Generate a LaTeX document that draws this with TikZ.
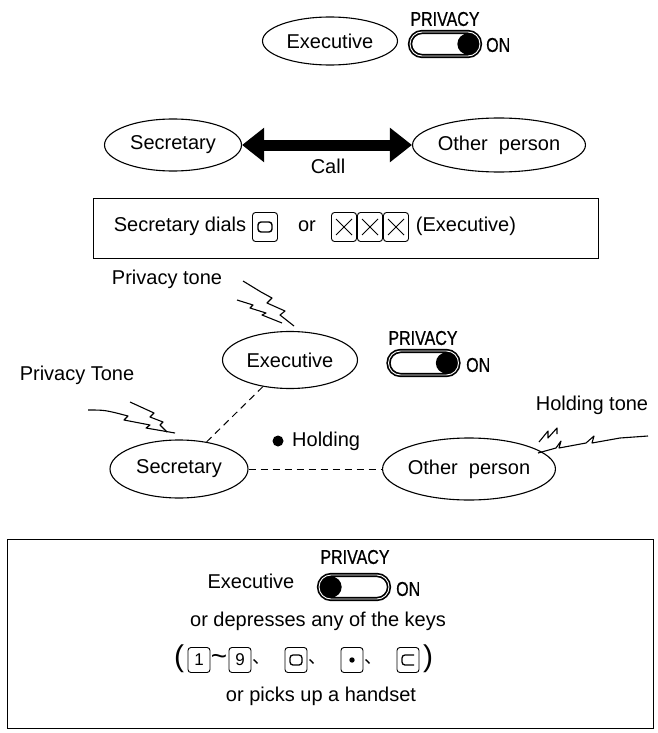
\documentclass[tikz,border=0pt]{standalone}
\usepackage{fontspec}
\setmainfont{Liberation Sans}
\newfontfamily\condfont[FakeStretch=0.8,FakeBold=0.6]{Liberation Sans}
\newfontfamily\cjkfont{Noto Sans CJK JP}
\usetikzlibrary{shapes.geometric,arrows.meta,calc}
\begin{document}
\begin{tikzpicture}[x=1pt,y=-1pt,
  every node/.style={font=\fontsize{20}{24}\selectfont, inner sep=0pt},
  ell/.style={ellipse, draw, line width=1.1pt},
  privtxt/.style={font=\condfont\fontsize{20}{24}\selectfont},
  sw/.style={draw, line width=1.7pt, double=white, double distance=0.9pt, rounded corners=12pt, minimum width=70pt, minimum height=24pt},
  frame/.style={draw, line width=1pt},
  keyA/.style={draw, line width=0.9pt, rounded corners=3pt, minimum width=25pt, minimum height=29pt},
  keyB/.style={draw, line width=0.9pt, rounded corners=3pt, minimum width=22pt, minimum height=25pt},
  comma/.style={font=\cjkfont\fontsize{18}{18}\selectfont, anchor=west},
  zig/.style={line width=1.1pt, line join=round},
  dashline/.style={dashed, dash pattern=on 7pt off 5pt, line width=1pt}]
\useasboundingbox (0,0) rectangle (657,733);

% ---------- top ----------
\node[ell, minimum width=135pt, minimum height=48pt] (exeA) at (330,41) {Executive};
\node[privtxt] (pA) at (445,19) {PRIVACY};
\node[sw] (swA) at (445,44) {};
\fill (swA.east) ++(-13,0) circle (10.5);
\node[privtxt, anchor=west] (onA) at (486,45) {ON};

% ---------- call row ----------
\node[ell, minimum width=137pt, minimum height=52pt] (secA) at (173,145) {Secretary};
\node[ell, minimum width=152pt, minimum height=54pt] (othA) at (499,145) {Other\ \ person};
\draw[line width=11pt, {Triangle[length=22pt,width=33pt]}-{Triangle[length=22pt,width=33pt]}] (secA) -- (othA);
\node (call) at (328,166) {Call};

% ---------- box 1 ----------
\node[frame, minimum width=505pt, minimum height=60pt] (boxA) at (345.5,228) {};
\node (dials) at (180,226) {Secretary dials};
\node[keyA] (k0) at (265,227) {};
\draw[line width=1.4pt, rounded corners=3pt] ($(k0)+(-7,-5)$) rectangle ($(k0)+(7,5)$);
\node (or) at (307,226) {or};
\node[keyA] (kx1) at (344,227) {};
\node[keyA] (kx2) at (370,227) {};
\node[keyA] (kx3) at (396,227) {};
\foreach \k in {kx1,kx2,kx3}{
  \draw[line width=0.8pt] ($(\k)+(-8,-8)$) -- ($(\k)+(8,8)$) ($(\k)+(-8,8)$) -- ($(\k)+(8,-8)$);
}
\node (exeTxt) at (466,226) {(Executive)};

% ---------- middle ----------
\node (ptone) at (167,279) {Privacy tone};
\draw[zig] (243,281) .. controls (252,287) .. (261,292) -- (272,298) -- (267,303) -- (285,311) -- (280,315) -- (294,326);
\draw[zig] (237,300) -- (253,305) -- (250,308) -- (266,313) -- (262,315) -- (282,323);
\node[ell, minimum width=135pt, minimum height=57pt] (exeB) at (290,360) {Executive};
\node[privtxt] (pB) at (423,338) {PRIVACY};
\node[sw] (swB) at (423.5,363) {};
\fill (swB.east) ++(-13,0) circle (10.5);
\node[privtxt, anchor=west] (onB) at (466,365) {ON};

\node (pTone) at (77,375) {Privacy Tone};
\draw[zig] (88,410) .. controls (105,410) .. (128,416) -- (124,420) -- (150,425) -- (146,428) -- (175,433);
\draw[zig] (130,402) -- (154,413) -- (150,417) -- (163,422) -- (160,425) -- (167,432);

\node[ell, minimum width=138pt, minimum height=58pt] (secB) at (179,469) {Secretary};
\node[ell, minimum width=158pt, minimum height=62pt] (othB) at (469,469) {Other\ \ person};
\draw[dashline] (exeB) -- (secB);
\draw[dashline] (secB) -- (othB);
\node[circle, fill, minimum size=11pt] (hdot) at (278,441) {};
\node[anchor=west] (hold) at (292,441) {Holding};

\node (htone) at (592,405) {Holding tone};
\draw[zig] (539,442) -- (548,431) -- (548,438) -- (557,428) -- (557,434);
\draw[zig] (538,453) -- (556,448) -- (561,441) -- (559,448) -- (586,443) -- (594,436) -- (592,443) -- (620,438) -- (648,436);

% ---------- bottom box ----------
\node[frame, minimum width=646pt, minimum height=189pt] (boxB) at (330,633.5) {};
\node[privtxt] (pC) at (355,557) {PRIVACY};
\node (exeC) at (251,581) {Executive};
\node[sw] (swC) at (354,587) {};
\fill (swC.west) ++(13,0) circle (10.5);
\node[privtxt, anchor=west] (onC) at (396,589) {ON};
\node (dep) at (318,621) {or depresses any of the keys};

\node[font=\fontsize{30}{32}\selectfont] (lp) at (179,659) {(};
\node[keyB] (b1) at (199,660) {\fontsize{17}{17}\selectfont 1};
\node[font=\fontsize{28}{28}\selectfont] (tl) at (219,660) {\textasciitilde};
\node[keyB] (b9) at (240,660) {\fontsize{17}{17}\selectfont 9};
\node[comma] (c1) at ($(b9.east)+(0.5,2)$) {、};
\node[keyB] (b0) at (296,660) {};
\draw[line width=1.3pt, rounded corners=3pt] ($(b0)+(-6,-5)$) rectangle ($(b0)+(6,5)$);
\node[comma] (c2) at ($(b0.east)+(0.5,2)$) {、};
\node[keyB] (bd) at (352,660) {};
\fill (bd) circle (2.7);
\node[comma] (c3) at ($(bd.east)+(0.5,2)$) {、};
\node[keyB] (bc) at (408,660) {};
\draw[line width=1.3pt, rounded corners=3pt] ($(bc)+(6,-5)$) -- ($(bc)+(-6,-5)$) -- ($(bc)+(-6,5)$) -- ($(bc)+(6,5)$);
\node[font=\fontsize{30}{32}\selectfont] (rp) at (428,659) {)};
\node (pick) at (321,696) {or picks up a handset};
\end{tikzpicture}
\end{document}
